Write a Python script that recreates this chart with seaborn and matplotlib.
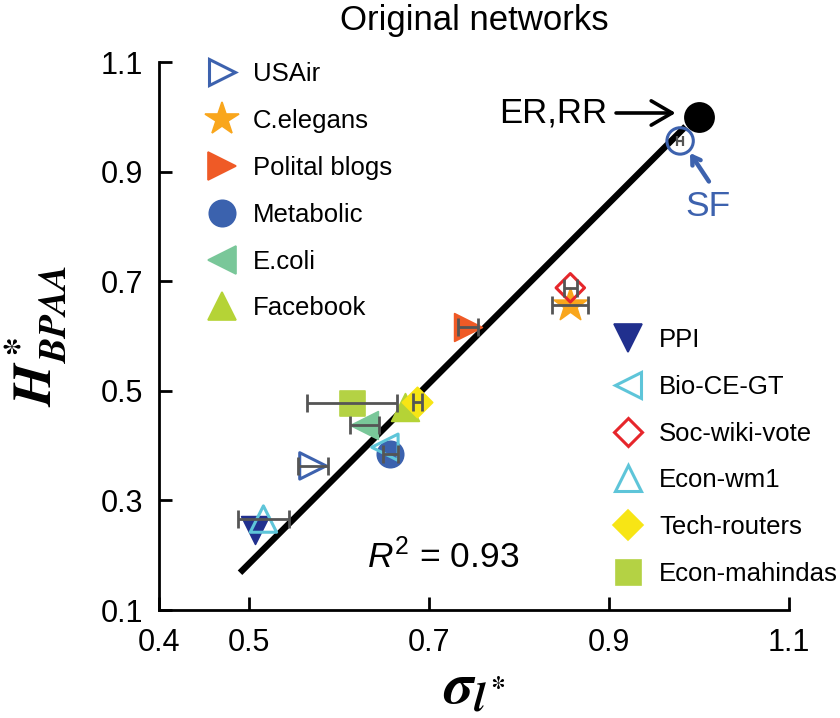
import matplotlib
matplotlib.use("Agg")
import matplotlib.pyplot as plt
from matplotlib.lines import Line2D
import pandas as pd
import seaborn as sns

# Real-world networks: position of each network in the (sigma_l*, H*_BPAA) plane
networks = ["USAir", "C.elegans", "Polital blogs", "Metabolic", "E.coli", "Facebook",
            "PPI", "Bio-CE-GT", "Soc-wiki-vote", "Econ-wm1", "Tech-routers", "Econ-mahindas"]
sigma_l = [0.571, 0.857, 0.743, 0.657, 0.628, 0.673,
           0.507, 0.651, 0.857, 0.516, 0.687, 0.614]
h_bpaa = [0.363, 0.657, 0.616, 0.385, 0.438, 0.470,
          0.246, 0.397, 0.688, 0.266, 0.480, 0.478]
sigma_err = [0.017, 0.020, 0.011, 0.008, 0.016, 0.0,
             0.0, 0.0, 0.007, 0.028, 0.005, 0.050]

# Model reference networks
ref_labels = ["ER,RR", "SF"]
ref_sigma = [1.0, 0.979]
ref_h = [1.0, 0.956]
ref_err = [0.0, 0.003]

# Linear fit across the networks
fit_slope = 1.645
fit_intercept = -0.638
fit_range = [0.49, 0.985]
r_squared = 0.93

x_ticks = [0.4, 0.5, 0.7, 0.9, 1.1]
y_ticks = [0.1, 0.3, 0.5, 0.7, 0.9, 1.1]

# marker, colour, filled, marker size (pt)
styles = {
    "USAir":         (">", "#3d62ae", False, 19),
    "C.elegans":     ("*", "#f9a61c", True, 25),
    "Polital blogs": (">", "#ef5a26", True, 20),
    "Metabolic":     ("o", "#3b62ae", True, 19),
    "E.coli":        ("<", "#79c799", True, 20),
    "Facebook":      ("^", "#b5d336", True, 20),
    "PPI":           ("v", "#21308e", True, 20),
    "Bio-CE-GT":     ("<", "#5ec5d9", False, 19),
    "Soc-wiki-vote": ("D", "#e6262b", False, 14.5),
    "Econ-wm1":      ("^", "#5ec5d9", False, 19),
    "Tech-routers":  ("D", "#f7e515", True, 15.5),
    "Econ-mahindas": ("s", "#b4d244", True, 18),
}
draw_order = ["Econ-mahindas", "USAir", "C.elegans", "Polital blogs", "Metabolic",
              "E.coli", "Facebook", "PPI", "Bio-CE-GT", "Soc-wiki-vote",
              "Econ-wm1", "Tech-routers"]

df = pd.DataFrame({"network": networks, "sigma": sigma_l, "h": h_bpaa, "err": sigma_err})

sns.set_style("ticks")
plt.rcParams["font.family"] = ["Liberation Sans", "DejaVu Sans"]
plt.rcParams["text.color"] = "black"
plt.rcParams["axes.labelcolor"] = "black"
plt.rcParams["xtick.color"] = "black"
plt.rcParams["ytick.color"] = "black"
plt.rcParams["axes.edgecolor"] = "black"
plt.rcParams["mathtext.fontset"] = "custom"
plt.rcParams["mathtext.rm"] = "Liberation Sans"
plt.rcParams["mathtext.it"] = "Liberation Sans:italic"

fig = plt.figure(figsize=(8.4, 7.18), dpi=100)
ax = fig.add_axes([0.1893, 0.1504, 0.75, 0.7632])

# regression line
fit_df = pd.DataFrame({"x": fit_range,
                       "y": [fit_slope * v + fit_intercept for v in fit_range]})
sns.lineplot(data=fit_df, x="x", y="y", color="black", lw=4.6,
             solid_capstyle="butt", ax=ax, zorder=2, legend=False)


def add_point(x, y, marker, color, filled, ms, z):
    sns.scatterplot(x=[x], y=[y], marker=marker, s=ms ** 2, color=color,
                    edgecolor=color, linewidth=2.2 if not filled else 1.2,
                    ax=ax, legend=False, zorder=z)
    coll = ax.collections[-1]
    if not filled:
        coll.set_facecolor("none")
    coll.set_edgecolor(color)


for i, name in enumerate(draw_order):
    row = df[df.network == name].iloc[0]
    m, c, filled, ms = styles[name]
    add_point(row.sigma, row.h, m, c, filled, ms, 3 + i * 0.1)

# model reference points
add_point(ref_sigma[0], ref_h[0], "o", "black", True, 21, 4.5)
add_point(ref_sigma[1], ref_h[1], "o", "#3d62ae", False, 19, 4.6)

# error bars in sigma_l*
eb = df[df.err > 0]
ax.errorbar(eb.sigma, eb.h, xerr=eb.err, fmt="none", ecolor="#555555",
            elinewidth=2.0, capsize=6.5, capthick=2.0, zorder=6)
ax.errorbar([ref_sigma[1]], [ref_h[1]], xerr=[ref_err[1]], fmt="none",
            ecolor="#555555", elinewidth=1.6, capsize=3.5, capthick=1.6, zorder=6)

# annotations
ax.annotate(ref_labels[0], xy=(0.974, 1.007), xytext=(0.898, 1.007),
            ha="right", va="center", fontsize=25,
            arrowprops=dict(arrowstyle="->,head_length=0.6,head_width=0.35",
                            lw=2.6, color="black", shrinkA=4, shrinkB=0))
ax.annotate("", xy=(0.990, 0.934), xytext=(1.011, 0.882),
            arrowprops=dict(arrowstyle="->,head_length=0.55,head_width=0.35",
                            lw=3.2, color="#3d62ae", shrinkA=0, shrinkB=0))
ax.text(1.010, 0.836, ref_labels[1], ha="center", va="center",
        fontsize=25.5, color="#3d62ae")
ax.text(0.631, 0.198, rf"$R^2$ = {r_squared:.2f}", ha="left", va="center",
        fontsize=25.5)

# axes styling
ax.set_xlim(0.4, 1.1)
ax.set_ylim(0.1, 1.1)
ax.set_xticks(x_ticks)
ax.set_xticklabels([f"{v:.1f}" for v in x_ticks])
ax.set_yticks(y_ticks)
ax.set_yticklabels([f"{v:.1f}" for v in y_ticks])
ax.tick_params(direction="in", length=9.5, width=2, labelsize=22)
ax.tick_params(axis="x", pad=13)
ax.tick_params(axis="y", pad=11.5)
for side in ["left", "bottom"]:
    ax.spines[side].set_linewidth(2)
sns.despine(ax=ax)

ax.set_xlabel(r"$\mathbfit{\sigma_{l^*}}$", fontsize=42, math_fontfamily="stix",
              labelpad=2)
ax.set_ylabel(r"$\mathbfit{H^*_{BPAA}}$", fontsize=39, math_fontfamily="stix",
              labelpad=22)
ax.set_title("Original networks", fontsize=25, pad=23)


def legend_handles(names):
    hs = []
    for n in names:
        m, c, filled, ms = styles[n]
        hs.append(Line2D([], [], ls="", marker=m, ms=ms, mec=c,
                         mfc=c if filled else "none",
                         mew=1.2 if filled else 2.2))
    return hs


common = dict(frameon=False, fontsize=18.5, handlelength=1.5, handletextpad=0.45,
              labelspacing=0.89, borderpad=0, borderaxespad=0, numpoints=1)
leg1 = ax.legend(legend_handles(networks[:6]), networks[:6], loc="upper left",
                 bbox_to_anchor=(0.070, 1.000), **common)
ax.add_artist(leg1)
ax.legend(legend_handles(networks[6:]), networks[6:], loc="upper left",
          bbox_to_anchor=(0.714, 0.515), **common)

fig.savefig("out.png", dpi=100)
